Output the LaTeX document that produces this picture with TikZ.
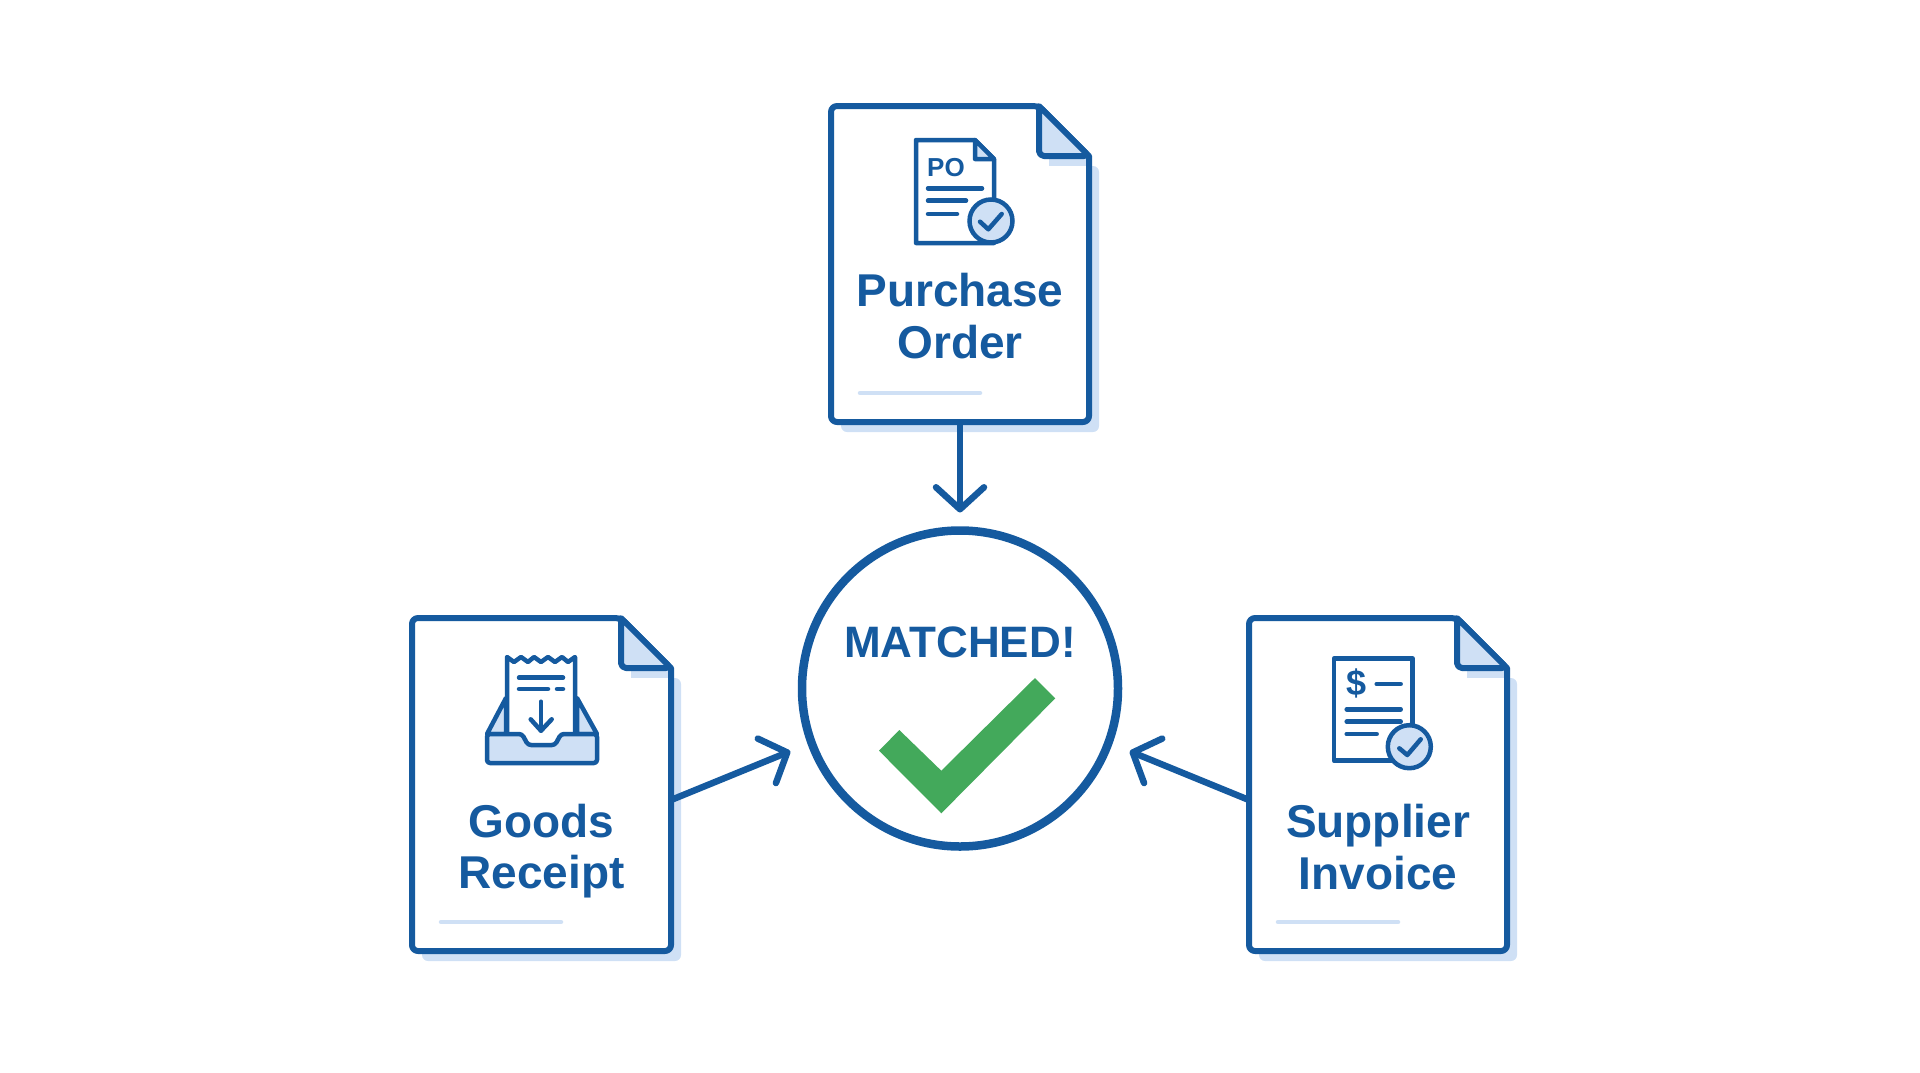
\documentclass[tikz,border=0pt]{standalone}
\usepackage{fontspec}
\setmainfont{Liberation Sans}
\usetikzlibrary{arrows.meta}
\definecolor{docblue}{HTML}{155A9F}
\definecolor{palefold}{HTML}{CFE0F5}
\definecolor{matchgreen}{HTML}{43A95B}
\tikzstyle{sheet}=[rectangle,inner sep=0pt,outer sep=0pt]
\tikzstyle{sheetline}=[draw=docblue,line width=6pt,line join=round]
\tikzstyle{doclabel}=[inner sep=0pt,text=docblue,align=center,font=\fontsize{46}{51.5}\selectfont\bfseries]
\tikzstyle{hub}=[circle,draw=docblue,fill=white,line width=8.5pt,minimum size=316pt,inner sep=0pt,outer sep=0pt]
\tikzstyle{flow}=[-{Straight Barb[length=22pt,width=48pt,round]},draw=docblue,line width=6.5pt]
\tikzstyle{iconline}=[draw=docblue,line width=4.5pt,line cap=round,line join=round]
\tikzstyle{rowline}=[draw=docblue,line width=4.5pt,line cap=round]
\tikzstyle{badge}=[circle,draw=docblue,fill=palefold,line width=4.5pt,minimum size=43pt,inner sep=0pt]
\newcommand{\docsheet}[4]{
\begin{scope}[shift={(#1,#2)}]
\fill [palefold,rounded corners=6pt] (10,60) -- (#3+10,60) -- (#3+10,#4+10) -- (10,#4+10) -- cycle ;
\draw [sheetline,fill=white,rounded corners=6pt] (0,0) -- (#3-50,0) [sharp corners] -- (#3,50) [rounded corners=6pt] -- (#3,#4) -- (0,#4) -- cycle ;
\fill [palefold] (#3-40,50) rectangle (#3-3,60) ;
\draw [sheetline,fill=palefold,rounded corners=5pt] (#3-50,0) -- (#3-50,50) -- (#3,50) [sharp corners] -- cycle ;
\draw [palefold,line width=4.5pt,line cap=round] (29,#4-29) -- (149,#4-29) ;
\end{scope}
}
\begin{document}
\begin{tikzpicture}[x=1pt,y=-1pt]

\useasboundingbox (0,0) rectangle (1920,1072) ;

\node (po) [sheet,minimum width=258pt,minimum height=316pt] at (960,264) {} ;
\node (gr) [sheet,minimum width=259pt,minimum height=333pt] at (541.5,784.5) {} ;
\node (si) [sheet,minimum width=258pt,minimum height=333pt] at (1378,784.5) {} ;
\node (match) [hub] at (960,688.5) {} ;

\docsheet{831}{106}{258}{316}
\docsheet{412}{618}{259}{333}
\docsheet{1249}{618}{258}{333}

\draw [flow,shorten >=18pt] (po.south) -- (match.north) ;
\draw [flow,shorten >=23pt] ([yshift=-15.5pt]gr.east) -- (match.200) ;
\draw [flow,shorten >=23pt] ([yshift=-15.5pt]si.west) -- (match.340) ;

\node (potext) [doclabel] at (960,316) {Purchase\\Order} ;
\node (grtext) [doclabel] at (541.5,851) {Goods\\Receipt} ;
\node (sitext) [doclabel] at (1378,847) {Supplier\\Invoice} ;

\node (matched) [inner sep=0pt,text=docblue,font=\fontsize{44}{50}\selectfont\bfseries,anchor=base] at (960,657) {MATCHED!} ;
\fill [matchgreen] (1035,678) -- (1055.3,698.3) -- (941.3,813.3) -- (879,750.7) -- (899.3,730) -- (941.3,770.7) -- cycle ;

\draw [iconline,fill=white] (916,140) -- (975,140) -- (994,159) -- (994,243) -- (916,243) -- cycle ;
\draw [iconline,fill=palefold] (975,140) -- (975,159) -- (994,159) -- cycle ;
\node (potag) [inner sep=0pt,text=docblue,font=\fontsize{26}{26}\selectfont\bfseries,anchor=base] at (946,176) {PO} ;
\draw [rowline] (928,188.3) -- (982,188.3) ;
\draw [rowline] (928,200.7) -- (966,200.7) ;
\draw [rowline] (928,214) -- (957,214) ;
\node (pobadge) [badge] at (991,221) {} ;
\draw [iconline] (980,221.7) -- (988.3,229.3) -- (1001.7,214) ;

\draw [iconline,fill=palefold] (487,734) -- (506,698) -- (506,734) -- cycle ;
\draw [iconline,fill=palefold] (597,734) -- (577,698) -- (577,734) -- cycle ;
\draw [iconline,fill=white] (507,745) -- (507,657) -- (514,662) -- (521,657) -- (528,662) -- (534,657) -- (541,662) -- (548,657) -- (555,662) -- (562,657) -- (568,662) -- (575,657) -- (575,745) ;
\draw [rowline] (519,677.7) -- (563,677.7) ;
\draw [rowline] (519,689) -- (548,689) ;
\draw [rowline] (557,689) -- (563,689) ;
\draw [iconline] (541,701.7) -- (541,730.7) ;
\draw [iconline] (530.7,719.3) -- (541,730.7) -- (551.7,719.3) ;
\draw [iconline,fill=palefold,rounded corners=3pt] (487,734) -- (522,734) -- (528,745) -- (555,745) -- (561,734) -- (597,734) -- (597,763) -- (487,763) -- cycle ;

\draw [iconline,fill=white] (1334,658.7) -- (1412.7,658.7) -- (1412.7,760.7) -- (1334,760.7) -- cycle ;
\node (sitag) [inner sep=0pt,text=docblue,font=\fontsize{36}{36}\selectfont\bfseries] at (1356.7,683.3) {\$} ;
\draw [rowline] (1376.7,684) -- (1400.7,684) ;
\draw [rowline] (1346.7,709.3) -- (1400.7,709.3) ;
\draw [rowline] (1346.7,721.7) -- (1400.7,721.7) ;
\draw [rowline] (1346.7,734) -- (1376.7,734) ;
\node (sibadge) [badge] at (1409.3,746.7) {} ;
\draw [iconline] (1399.3,748.3) -- (1407.3,755) -- (1420.7,739.3) ;

\end{tikzpicture}
\end{document}
